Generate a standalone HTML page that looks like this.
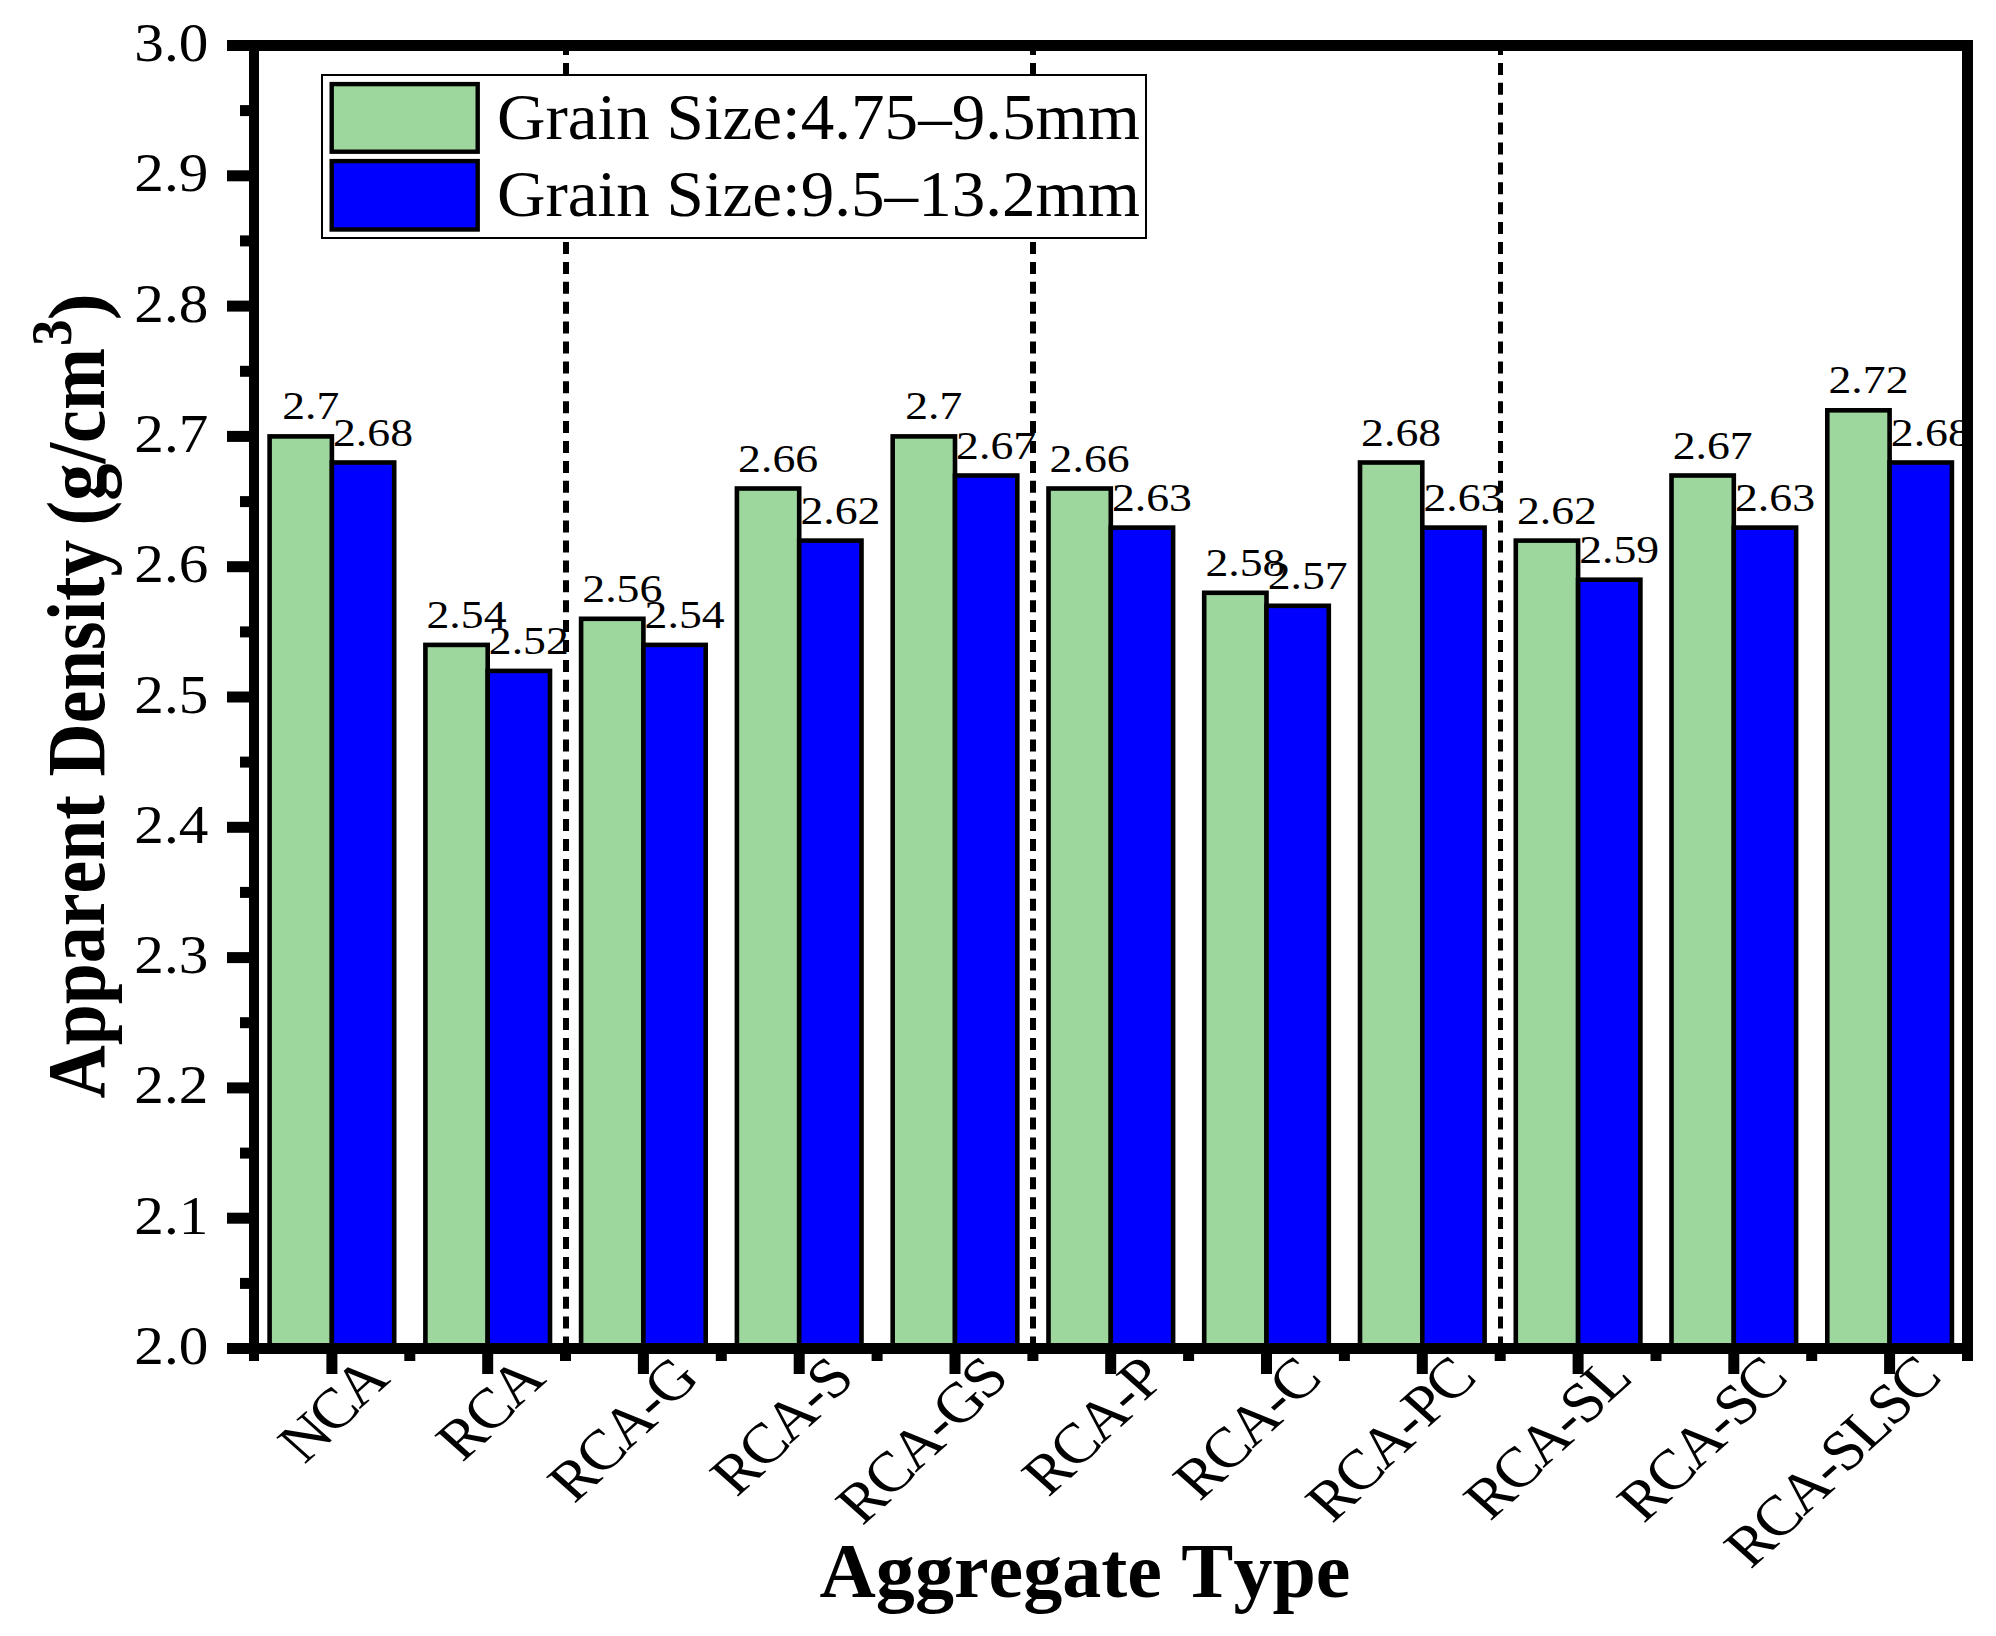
<!DOCTYPE html>
<html lang="en"><head><meta charset="utf-8"><title>Apparent Density by Aggregate Type</title>
<style>html,body{margin:0;padding:0;background:#fff}body{width:1996px;height:1636px;overflow:hidden}svg{display:block}text{font-family:"Liberation Serif","Times New Roman",serif;fill:#000;font-kerning:none}</style>
</head><body>
<svg width="1996" height="1636" viewBox="0 0 1996 1636">
<rect width="1996" height="1636" fill="#fff"/>
<g stroke="#000" stroke-width="4.6" stroke-linejoin="miter">
<rect x="269.6" y="436.4" width="62.3" height="912.1" fill="#9DD79E"/>
<rect x="331.9" y="462.5" width="62.3" height="886.0" fill="#0000FF"/>
<rect x="425.4" y="644.9" width="62.3" height="703.6" fill="#9DD79E"/>
<rect x="487.7" y="670.9" width="62.3" height="677.6" fill="#0000FF"/>
<rect x="581.1" y="618.8" width="62.3" height="729.7" fill="#9DD79E"/>
<rect x="643.4" y="644.9" width="62.3" height="703.6" fill="#0000FF"/>
<rect x="736.9" y="488.5" width="62.3" height="860.0" fill="#9DD79E"/>
<rect x="799.2" y="540.6" width="62.3" height="807.9" fill="#0000FF"/>
<rect x="892.7" y="436.4" width="62.3" height="912.1" fill="#9DD79E"/>
<rect x="955.0" y="475.5" width="62.3" height="873.0" fill="#0000FF"/>
<rect x="1048.5" y="488.5" width="62.3" height="860.0" fill="#9DD79E"/>
<rect x="1110.8" y="527.6" width="62.3" height="820.9" fill="#0000FF"/>
<rect x="1204.2" y="592.8" width="62.3" height="755.7" fill="#9DD79E"/>
<rect x="1266.5" y="605.8" width="62.3" height="742.7" fill="#0000FF"/>
<rect x="1360.0" y="462.5" width="62.3" height="886.0" fill="#9DD79E"/>
<rect x="1422.3" y="527.6" width="62.3" height="820.9" fill="#0000FF"/>
<rect x="1515.8" y="540.6" width="62.3" height="807.9" fill="#9DD79E"/>
<rect x="1578.1" y="579.7" width="62.3" height="768.8" fill="#0000FF"/>
<rect x="1671.5" y="475.5" width="62.3" height="873.0" fill="#9DD79E"/>
<rect x="1733.8" y="527.6" width="62.3" height="820.9" fill="#0000FF"/>
<rect x="1827.3" y="410.3" width="62.3" height="938.2" fill="#9DD79E"/>
<rect x="1889.6" y="462.5" width="62.3" height="886.0" fill="#0000FF"/>
</g>
<g font-size="41.0" text-anchor="middle">
<text x="310.7" y="419.4" textLength="57.0" lengthAdjust="spacingAndGlyphs">2.7</text>
<text x="373.0" y="445.5" textLength="80.0" lengthAdjust="spacingAndGlyphs">2.68</text>
<text x="466.5" y="627.9" textLength="80.0" lengthAdjust="spacingAndGlyphs">2.54</text>
<text x="528.8" y="653.9" textLength="80.0" lengthAdjust="spacingAndGlyphs">2.52</text>
<text x="622.3" y="601.8" textLength="80.0" lengthAdjust="spacingAndGlyphs">2.56</text>
<text x="684.6" y="627.9" textLength="80.0" lengthAdjust="spacingAndGlyphs">2.54</text>
<text x="778.1" y="471.5" textLength="80.0" lengthAdjust="spacingAndGlyphs">2.66</text>
<text x="840.4" y="523.6" textLength="80.0" lengthAdjust="spacingAndGlyphs">2.62</text>
<text x="933.8" y="419.4" textLength="57.0" lengthAdjust="spacingAndGlyphs">2.7</text>
<text x="996.1" y="458.5" textLength="80.0" lengthAdjust="spacingAndGlyphs">2.67</text>
<text x="1089.6" y="471.5" textLength="80.0" lengthAdjust="spacingAndGlyphs">2.66</text>
<text x="1151.9" y="510.6" textLength="80.0" lengthAdjust="spacingAndGlyphs">2.63</text>
<text x="1245.4" y="575.8" textLength="80.0" lengthAdjust="spacingAndGlyphs">2.58</text>
<text x="1307.7" y="588.8" textLength="80.0" lengthAdjust="spacingAndGlyphs">2.57</text>
<text x="1401.1" y="445.5" textLength="80.0" lengthAdjust="spacingAndGlyphs">2.68</text>
<text x="1463.4" y="510.6" textLength="80.0" lengthAdjust="spacingAndGlyphs">2.63</text>
<text x="1556.9" y="523.6" textLength="80.0" lengthAdjust="spacingAndGlyphs">2.62</text>
<text x="1619.2" y="562.7" textLength="80.0" lengthAdjust="spacingAndGlyphs">2.59</text>
<text x="1712.7" y="458.5" textLength="80.0" lengthAdjust="spacingAndGlyphs">2.67</text>
<text x="1775.0" y="510.6" textLength="80.0" lengthAdjust="spacingAndGlyphs">2.63</text>
<text x="1868.5" y="393.3" textLength="80.0" lengthAdjust="spacingAndGlyphs">2.72</text>
<text x="1930.8" y="445.5" textLength="80.0" lengthAdjust="spacingAndGlyphs">2.68</text>
</g>
<g stroke="#000" stroke-width="6" stroke-dasharray="12 7.9" fill="none">
<path d="M566.0 1348.5 V45.5" stroke-width="6"/>
<path d="M1033.0 1348.5 V45.5" stroke-width="6"/>
<path d="M1500.5 1348.5 V45.5" stroke-width="5"/>
</g>
<rect x="322" y="75" width="824" height="163" fill="#fff" stroke="#000" stroke-width="2"/>
<rect x="331.7" y="84.1" width="146" height="67.6" fill="#9DD79E" stroke="#000" stroke-width="4.4"/>
<rect x="331.7" y="161.1" width="146" height="68.4" fill="#0000FF" stroke="#000" stroke-width="4.4"/>
<g font-size="65">
<text x="497" y="139" textLength="643" lengthAdjust="spacingAndGlyphs">Grain Size:4.75–9.5mm</text>
<text x="497" y="216" textLength="643" lengthAdjust="spacingAndGlyphs">Grain Size:9.5–13.2mm</text>
</g>
<g fill="#000">
<rect x="227" y="40" width="1746.0" height="11"/>
<rect x="227" y="1343" width="1746.0" height="11"/>
<rect x="249" y="40" width="10" height="1321.0"/>
<rect x="1962" y="40" width="11" height="1321.0"/>
<rect x="227" y="40.0" width="24" height="11"/>
<rect x="240" y="105.1" width="11" height="11"/>
<rect x="227" y="170.3" width="24" height="11"/>
<rect x="240" y="235.4" width="11" height="11"/>
<rect x="227" y="300.6" width="24" height="11"/>
<rect x="240" y="365.8" width="11" height="11"/>
<rect x="227" y="430.9" width="24" height="11"/>
<rect x="240" y="496.1" width="11" height="11"/>
<rect x="227" y="561.2" width="24" height="11"/>
<rect x="240" y="626.4" width="11" height="11"/>
<rect x="227" y="691.5" width="24" height="11"/>
<rect x="240" y="756.6" width="11" height="11"/>
<rect x="227" y="821.8" width="24" height="11"/>
<rect x="240" y="886.9" width="11" height="11"/>
<rect x="227" y="952.1" width="24" height="11"/>
<rect x="240" y="1017.2" width="11" height="11"/>
<rect x="227" y="1082.4" width="24" height="11"/>
<rect x="240" y="1147.6" width="11" height="11"/>
<rect x="227" y="1212.7" width="24" height="11"/>
<rect x="240" y="1277.9" width="11" height="11"/>
<rect x="227" y="1343.0" width="24" height="11"/>
<rect x="326.4" y="1350" width="11" height="24"/>
<rect x="404.3" y="1350" width="11" height="11"/>
<rect x="482.2" y="1350" width="11" height="24"/>
<rect x="560.0" y="1350" width="11" height="11"/>
<rect x="637.9" y="1350" width="11" height="24"/>
<rect x="715.8" y="1350" width="11" height="11"/>
<rect x="793.7" y="1350" width="11" height="24"/>
<rect x="871.6" y="1350" width="11" height="11"/>
<rect x="949.5" y="1350" width="11" height="24"/>
<rect x="1027.4" y="1350" width="11" height="11"/>
<rect x="1105.2" y="1350" width="11" height="24"/>
<rect x="1183.1" y="1350" width="11" height="11"/>
<rect x="1261.0" y="1350" width="11" height="24"/>
<rect x="1338.9" y="1350" width="11" height="11"/>
<rect x="1416.8" y="1350" width="11" height="24"/>
<rect x="1494.7" y="1350" width="11" height="11"/>
<rect x="1572.6" y="1350" width="11" height="24"/>
<rect x="1650.5" y="1350" width="11" height="11"/>
<rect x="1728.3" y="1350" width="11" height="24"/>
<rect x="1806.2" y="1350" width="11" height="11"/>
<rect x="1884.1" y="1350" width="11" height="24"/>
</g>
<g font-size="55.5" text-anchor="end">
<text x="208.3" y="61.0" textLength="74" lengthAdjust="spacingAndGlyphs">3.0</text>
<text x="208.3" y="191.3" textLength="74" lengthAdjust="spacingAndGlyphs">2.9</text>
<text x="208.3" y="321.6" textLength="74" lengthAdjust="spacingAndGlyphs">2.8</text>
<text x="208.3" y="451.9" textLength="74" lengthAdjust="spacingAndGlyphs">2.7</text>
<text x="208.3" y="582.2" textLength="74" lengthAdjust="spacingAndGlyphs">2.6</text>
<text x="208.3" y="712.5" textLength="74" lengthAdjust="spacingAndGlyphs">2.5</text>
<text x="208.3" y="842.8" textLength="74" lengthAdjust="spacingAndGlyphs">2.4</text>
<text x="208.3" y="973.1" textLength="74" lengthAdjust="spacingAndGlyphs">2.3</text>
<text x="208.3" y="1103.4" textLength="74" lengthAdjust="spacingAndGlyphs">2.2</text>
<text x="208.3" y="1233.7" textLength="74" lengthAdjust="spacingAndGlyphs">2.1</text>
<text x="208.3" y="1364.0" textLength="74" lengthAdjust="spacingAndGlyphs">2.0</text>
</g>
<g font-size="56.5">
<text transform="scale(1.120 1)" x="271.6 297.3 321.1" y="1465.1 1436.2 1409.5" rotate="-45">NCA</text>
<text transform="scale(1.120 1)" x="412.7 436.5 460.2" y="1462.9 1436.2 1409.5" rotate="-45">RCA</text>
<text transform="scale(1.120 1)" x="512.5 536.2 560.0 585.7 597.5" y="1504.5 1477.8 1451.1 1422.2 1408.8" rotate="-45">RCA-G</text>
<text transform="scale(1.120 1)" x="657.7 681.5 705.2 731.0 742.8" y="1497.9 1471.2 1444.5 1415.6 1402.3" rotate="-45">RCA-S</text>
<text transform="scale(1.120 1)" x="769.9 793.6 817.4 843.1 855.0 880.7" y="1526.4 1499.7 1473.0 1444.1 1430.7 1401.8" rotate="-45">RCA-GS</text>
<text transform="scale(1.120 1)" x="935.9 959.7 983.4 1009.1 1021.0" y="1497.9 1471.2 1444.5 1415.6 1402.3" rotate="-45">RCA-P</text>
<text transform="scale(1.120 1)" x="1070.9 1094.6 1118.4 1144.1 1155.9" y="1502.3 1475.6 1448.9 1420.0 1406.7" rotate="-45">RCA-C</text>
<text transform="scale(1.120 1)" x="1189.2 1212.9 1236.7 1262.4 1274.3 1294.1" y="1524.2 1497.5 1470.8 1441.9 1428.6 1406.3" rotate="-45">RCA-PC</text>
<text transform="scale(1.120 1)" x="1330.4 1354.1 1377.9 1403.6 1415.4 1435.2" y="1522.0 1495.3 1468.6 1439.7 1426.4 1404.1" rotate="-45">RCA-SL</text>
<text transform="scale(1.120 1)" x="1467.4 1491.1 1514.9 1540.6 1552.4 1572.2" y="1524.2 1497.5 1470.8 1441.9 1428.6 1406.3" rotate="-45">RCA-SC</text>
<text transform="scale(1.120 1)" x="1562.9 1586.7 1610.4 1636.1 1648.0 1667.8 1689.5 1709.3" y="1570.1 1543.4 1516.7 1487.8 1474.5 1452.3 1427.8 1405.5" rotate="-45">RCA-SLSC</text>
</g>
<text x="1085" y="1596.5" font-size="77.5" font-weight="bold" text-anchor="middle" textLength="531" lengthAdjust="spacingAndGlyphs">Aggregate Type</text>
<g font-weight="bold">
<text transform="translate(104 1098.6) rotate(-90)" font-size="82.8" textLength="303.4" lengthAdjust="spacingAndGlyphs">Apparent</text>
<text transform="translate(104 776.4) rotate(-90)" font-size="82.8" textLength="236.6" lengthAdjust="spacingAndGlyphs">Density</text>
<text transform="translate(104 525.5) rotate(-90)" font-size="82.8" textLength="177.5" lengthAdjust="spacingAndGlyphs">(g/cm</text>
<text transform="translate(71.4 346) rotate(-90)" font-size="56.5" textLength="26.7" lengthAdjust="spacingAndGlyphs">3</text>
<text transform="translate(104 320.5) rotate(-90)" font-size="80.4" textLength="27.5" lengthAdjust="spacingAndGlyphs">)</text>
</g>
</svg></body></html>
